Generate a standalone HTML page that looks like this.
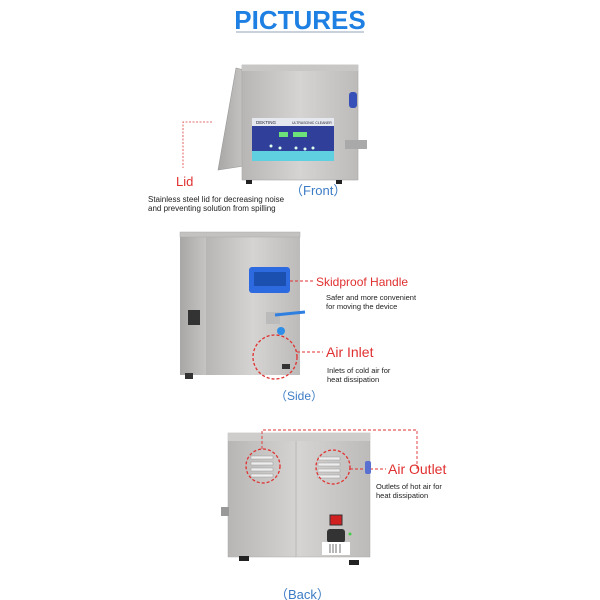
<!DOCTYPE html>
<html><head><meta charset="utf-8"><style>
html,body{margin:0;padding:0;background:#fff;width:600px;height:600px;overflow:hidden}
svg{display:block}
</style></head><body>
<svg width="600" height="600" viewBox="0 0 600 600" xmlns="http://www.w3.org/2000/svg" font-family="Liberation Sans, sans-serif">
<defs>
<linearGradient id="steel" x1="0" y1="0" x2="1" y2="0">
<stop offset="0" stop-color="#b8b6b4"/><stop offset="0.5" stop-color="#d6d4d2"/><stop offset="1" stop-color="#bdbbb9"/>
</linearGradient>
<linearGradient id="steel2" x1="0" y1="0" x2="1" y2="0">
<stop offset="0" stop-color="#a9a7a5"/><stop offset="1" stop-color="#c6c4c2"/>
</linearGradient>
</defs>
<!-- title -->
<text x="300" y="29" text-anchor="middle" font-size="26" font-weight="bold" fill="#1f80e3">PICTURES</text>
<rect x="236" y="31" width="128" height="2" fill="#c9d2dc"/>

<!-- FRONT -->
<polygon points="218,170 236,68 244,70 244,166" fill="url(#steel2)" stroke="#999" stroke-width="0.6"/>
<rect x="242" y="65" width="116" height="115" fill="url(#steel)" stroke="#a8a6a4" stroke-width="0.6"/>
<rect x="242" y="65" width="116" height="6" fill="#c9c7c5"/>
<rect x="252" y="118" width="82" height="43" fill="#2f3f9a"/>
<rect x="252" y="118" width="82" height="8" fill="#e6e8f0"/>
<text x="256" y="124" font-size="4.5" fill="#223">DEKTING</text>
<text x="292" y="124" font-size="3.5" fill="#223">ULTRASONIC CLEANER</text>
<rect x="252" y="151" width="82" height="10" fill="#5fd0e0"/>
<rect x="279" y="132" width="9" height="5" fill="#6de27a"/>
<rect x="293" y="132" width="14" height="5" fill="#6de27a"/>
<circle cx="271" cy="146" r="1.5" fill="#dfe"/><circle cx="280" cy="148" r="1.5" fill="#dfe"/>
<circle cx="296" cy="148" r="1.5" fill="#dfe"/><circle cx="305" cy="149" r="1.5" fill="#dfe"/><circle cx="313" cy="148" r="1.5" fill="#dfe"/>
<rect x="349" y="92" width="8" height="16" rx="3" fill="#3650b8"/>
<rect x="345" y="140" width="22" height="9" fill="#a9a9a9"/>
<rect x="246" y="180" width="6" height="4" fill="#222"/><rect x="336" y="180" width="6" height="4" fill="#222"/>
<path d="M212,122 H183 V168" fill="none" stroke="#e03c3c" stroke-width="0.8" stroke-dasharray="2,1.5"/>
<text x="176" y="186" font-size="13" fill="#e03030">Lid</text>
<text x="148" y="202" font-size="8" fill="#222">Stainless steel lid for decreasing noise</text>
<text x="148" y="211" font-size="8" fill="#222">and preventing solution from spilling</text>
<text x="290" y="195" font-size="13" fill="#3c7cc4">（Front）</text>

<!-- SIDE -->
<rect x="180" y="233" width="26" height="142" fill="url(#steel2)"/>
<rect x="206" y="233" width="94" height="142" fill="url(#steel)"/>
<rect x="180" y="232" width="120" height="5" fill="#c4c2c0" stroke="#aaa" stroke-width="0.5"/>
<rect x="249" y="267" width="41" height="26" rx="3" fill="#2d6ae0"/>
<rect x="254" y="272" width="32" height="14" fill="#1b4fb0"/>
<rect x="188" y="310" width="12" height="15" fill="#333"/>
<rect x="266" y="312" width="14" height="12" fill="#bbb"/>
<path d="M275,315 L305,312" stroke="#2f7fe0" stroke-width="3"/>
<circle cx="281" cy="331" r="4" fill="#2f8fe8"/>
<rect x="185" y="373" width="8" height="6" fill="#333"/><rect x="282" y="364" width="8" height="5" fill="#333"/>
<circle cx="275" cy="357" r="22" fill="none" stroke="#e03030" stroke-width="1.3" stroke-dasharray="3,2"/>
<path d="M290,281 H314" stroke="#e03030" stroke-width="1" stroke-dasharray="3,2"/>
<path d="M297,352 H323" stroke="#e03030" stroke-width="1" stroke-dasharray="3,2"/>
<text x="316" y="286" font-size="12" fill="#e03030">Skidproof Handle</text>
<text x="326" y="300" font-size="7.5" fill="#222">Safer and more convenient</text>
<text x="326" y="309" font-size="7.5" fill="#222">for moving the device</text>
<text x="326" y="357" font-size="14" fill="#e03030">Air Inlet</text>
<text x="327" y="373" font-size="7.5" fill="#222">Inlets of cold air for</text>
<text x="327" y="382" font-size="7.5" fill="#222">heat dissipation</text>
<text x="275" y="400" font-size="12" fill="#3c7cc4">（Side）</text>

<!-- BACK -->
<rect x="228" y="433" width="142" height="124" fill="url(#steel)" stroke="#aaa" stroke-width="0.5"/>
<rect x="228" y="433" width="142" height="8" fill="#cfcdcb"/>
<line x1="296" y1="441" x2="296" y2="557" stroke="#aaa" stroke-width="0.6"/>
<g fill="#eee" stroke="#999" stroke-width="0.5">
<rect x="251" y="456" width="22" height="3"/><rect x="251" y="462" width="22" height="3"/><rect x="251" y="468" width="22" height="3"/><rect x="251" y="474" width="22" height="3"/>
<rect x="318" y="457" width="22" height="3"/><rect x="318" y="463" width="22" height="3"/><rect x="318" y="469" width="22" height="3"/><rect x="318" y="475" width="22" height="3"/>
</g>
<circle cx="263" cy="466" r="17" fill="none" stroke="#e03030" stroke-width="1.3" stroke-dasharray="3,2"/>
<circle cx="333" cy="467" r="17" fill="none" stroke="#e03030" stroke-width="1.3" stroke-dasharray="3,2"/>
<path d="M262,449 V430 H417 V469" fill="none" stroke="#e03030" stroke-width="0.9" stroke-dasharray="3,2"/>
<path d="M350,469 H386" stroke="#e03030" stroke-width="1" stroke-dasharray="3,2"/>
<rect x="365" y="461" width="6" height="13" rx="2" fill="#5a70d0"/>
<text x="388" y="474" font-size="14" fill="#e03030">Air Outlet</text>
<text x="376" y="489" font-size="7.5" fill="#222">Outlets of hot air for</text>
<text x="376" y="498" font-size="7.5" fill="#222">heat dissipation</text>
<rect x="221" y="507" width="8" height="9" fill="#999"/>
<rect x="330" y="515" width="12" height="10" fill="#d02020" stroke="#333"/>
<rect x="327" y="529" width="18" height="14" rx="3" fill="#333"/>
<circle cx="350" cy="534" r="1.5" fill="#4c4"/>
<rect x="322" y="542" width="28" height="13" fill="#fff"/>
<g stroke="#333" stroke-width="0.7"><line x1="330" y1="544" x2="330" y2="553"/><line x1="333" y1="544" x2="333" y2="553"/><line x1="336" y1="544" x2="336" y2="553"/><line x1="340" y1="544" x2="340" y2="553"/></g>
<rect x="239" y="556" width="10" height="5" fill="#222"/><rect x="349" y="560" width="10" height="5" fill="#222"/>
<text x="275" y="599" font-size="13" fill="#3c7cc4">（Back）</text>
</svg>
</body></html>
